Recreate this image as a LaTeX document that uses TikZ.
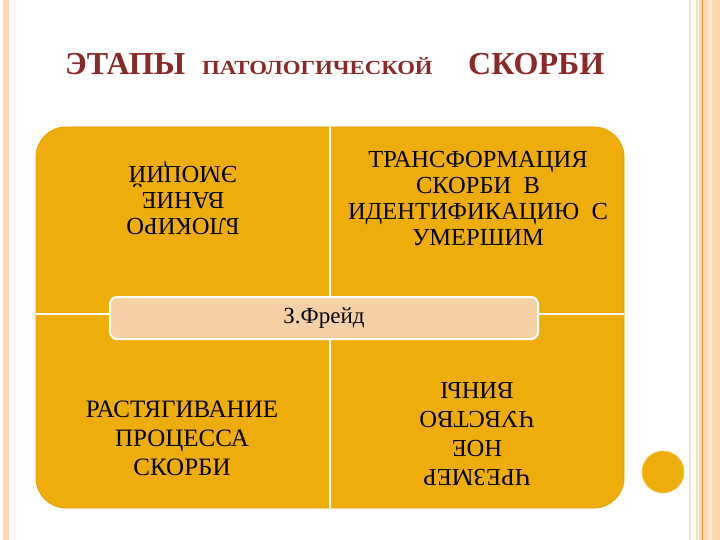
\documentclass[tikz,border=0pt]{standalone}
\usepackage{fontspec}
\setmainfont{Liberation Serif}
\definecolor{gold}{RGB}{238,173,10}
\definecolor{goldedge}{RGB}{228,163,0}
\definecolor{peachbox}{RGB}{245,208,166}
\definecolor{titlered}{RGB}{139,40,40}
\definecolor{framepeach}{RGB}{249,216,176}
\definecolor{frameorange}{RGB}{232,160,64}
\definecolor{framepink}{RGB}{252,226,234}
\definecolor{frameyellow}{RGB}{246,226,170}
\tikzset{
  quadtext/.style={align=center, inner sep=0pt, text=black},
  toptext/.style={quadtext, font=\fontsize{24.5}{26}\selectfont},
  bottext/.style={quadtext, font=\fontsize{24.5}{29}\selectfont},
  titlebig/.style={anchor=base west, inner sep=0pt, text=titlered, font=\fontsize{32}{36}\selectfont\bfseries},
  titlesmall/.style={anchor=base west, inner sep=0pt, text=titlered, font=\fontsize{20}{22}\selectfont\bfseries},
  divider/.style={white, line width=2pt}
}
\begin{document}
\begin{tikzpicture}[x=1pt,y=-1pt]
\useasboundingbox (0,0) rectangle (720,540);
\fill[white] (0,0) rectangle (720,540);
% frame left
\fill[framepeach] (3,0) rectangle (9,540);
\draw[framepink, line width=1pt] (14,0) -- (14,540);
% frame right
\draw[framepink, line width=1.5pt] (690,0) -- (690,540);
\draw[frameyellow, line width=1.5pt] (697,0) -- (697,540);
\fill[framepeach] (699,0) rectangle (720,540);
\draw[frameorange, line width=1.2pt] (702.5,0) -- (702.5,540);
\fill[framepeach!60!white] (708,0) rectangle (712,540);
% title
\node[titlebig] (t1) at (65,75) {ЭТАПЫ};
\node[titlesmall] (t2) at (202,75) {\scalebox{1.14}[1]{ПАТОЛОГИЧЕСКОЙ}};
\node[titlebig] (t3) at (468,75) {СКОРБИ};
% quadrants
\node[draw=goldedge, fill=gold, rounded corners=30pt, line width=0.8pt,
      minimum width=588pt, minimum height=381pt, inner sep=0pt] (quad) at (330,317.5) {};
\draw[divider] (quad.north) -- (quad.south);
\draw[divider] (quad.west) ++(0,-4) coordinate (hl) -- (hl -| quad.east);
% quadrant texts
\node[toptext, rotate=180] (tl) at (183,198) {БЛОКИРО\\ВАНИЕ\\ЭМОЦИЙ};
\node[toptext] (tr) at (478,199) {ТРАНСФОРМАЦИЯ\\СКОРБИ\ \ В\\ИДЕНТИФИКАЦИЮ\ \ С\\УМЕРШИМ};
\node[bottext, font=\fontsize{25}{29}\selectfont] (bl) at (182,438) {РАСТЯГИВАНИЕ\\ПРОЦЕССА\\СКОРБИ};
\node[bottext, rotate=180] (br) at (477,434) {ЧРЕЗМЕР\\НОЕ\\ЧУВСТВО\\ВИНЫ};
% center
\node[draw=white, line width=2pt, fill=peachbox, rounded corners=7pt,
      minimum width=428pt, minimum height=42pt, inner sep=0pt,
      font=\fontsize{23}{26}\selectfont] (freud) at (324,318) {З.Фрейд};
% circle
\node[circle, fill=gold, draw=gold!70!white, line width=0.6pt, minimum size=42pt, inner sep=0pt] (dot) at (663,472) {};
\end{tikzpicture}
\end{document}
